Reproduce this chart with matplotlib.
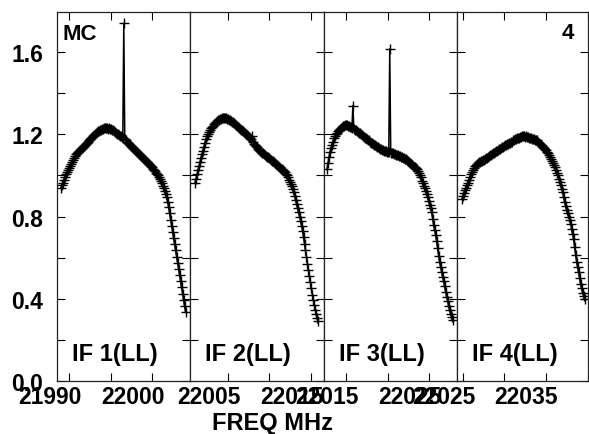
import matplotlib
matplotlib.use("Agg")
import matplotlib.pyplot as plt
import numpy as np
from matplotlib.ticker import MultipleLocator, FuncFormatter
from matplotlib.transforms import ScaledTranslation

plt.rcParams['font.family'] = ['Liberation Sans', 'DejaVu Sans']
plt.rcParams['font.weight'] = 'bold'

# ---------------- data ----------------
CHAN_MHZ = 0.12
IF_START_MHZ = [21989.04, 22001.02, 22012.71, 22024.88]
IF_LABELS = ["IF 1(LL)", "IF 2(LL)", "IF 3(LL)", "IF 4(LL)"]
SOURCE = "MC"
PLOT_NO = "4"

if1 = [0.94, 0.955, 0.965, 0.98, 0.99, 1.005, 1.015, 1.025, 1.035, 1.045,
       1.055, 1.065, 1.075, 1.085, 1.095, 1.105, 1.11, 1.115, 1.12, 1.125,
       1.13, 1.135, 1.14, 1.145, 1.15, 1.155, 1.16, 1.165, 1.17, 1.175,
       1.18, 1.185, 1.19, 1.195, 1.20, 1.205, 1.21, 1.215, 1.215, 1.22,
       1.22, 1.225, 1.225, 1.23, 1.23, 1.23, 1.23, 1.225, 1.23, 1.225,
       1.225, 1.22, 1.22, 1.215, 1.21, 1.205, 1.20, 1.20, 1.195, 1.19,
       1.19, 1.185, 1.18, 1.74, 1.175, 1.17, 1.165, 1.16, 1.155, 1.15,
       1.145, 1.14, 1.135, 1.13, 1.125, 1.12, 1.115, 1.11, 1.105, 1.10,
       1.095, 1.09, 1.085, 1.08, 1.075, 1.07, 1.065, 1.06, 1.055, 1.05,
       1.045, 1.04, 1.03, 1.025, 1.02, 1.01, 1.005, 1.00, 0.99, 0.985,
       0.975, 0.965, 0.95, 0.94, 0.925, 0.91, 0.895, 0.87, 0.845, 0.815,
       0.785, 0.755, 0.725, 0.695, 0.665, 0.635, 0.605, 0.575, 0.545, 0.515,
       0.485, 0.455, 0.425, 0.395, 0.365, 0.335]

if2 = [0.965, 0.985, 1.005, 1.025, 1.045, 1.065, 1.085, 1.105, 1.12, 1.14,
       1.16, 1.175, 1.19, 1.20, 1.21, 1.22, 1.23, 1.235, 1.24, 1.25,
       1.255, 1.26, 1.265, 1.27, 1.27, 1.275, 1.275, 1.28, 1.278, 1.28,
       1.278, 1.28, 1.275, 1.275, 1.27, 1.27, 1.265, 1.26, 1.26, 1.255,
       1.25, 1.245, 1.24, 1.235, 1.23, 1.225, 1.22, 1.22, 1.215, 1.21,
       1.205, 1.20, 1.195, 1.19, 1.185, 1.18, 1.175, 1.19, 1.165, 1.155,
       1.15, 1.145, 1.14, 1.13, 1.125, 1.12, 1.115, 1.11, 1.11, 1.105,
       1.10, 1.095, 1.09, 1.09, 1.085, 1.08, 1.075, 1.07, 1.07, 1.065,
       1.06, 1.055, 1.05, 1.045, 1.04, 1.035, 1.03, 1.03, 1.025, 1.02,
       1.015, 1.005, 1.00, 0.99, 0.98, 0.97, 0.96, 0.95, 0.935, 0.92,
       0.90, 0.88, 0.86, 0.84, 0.82, 0.80, 0.78, 0.755, 0.73, 0.70,
       0.665, 0.635, 0.605, 0.57, 0.54, 0.51, 0.48, 0.45, 0.42, 0.395,
       0.37, 0.345, 0.325, 0.305, 0.29]

if3 = [1.03, 1.06, 1.09, 1.115, 1.135, 1.15, 1.165, 1.18, 1.19, 1.20,
       1.205, 1.215, 1.22, 1.225, 1.23, 1.235, 1.24, 1.24, 1.245, 1.245,
       1.245, 1.24, 1.24, 1.235, 1.235, 1.23, 1.34, 1.225, 1.22, 1.22,
       1.215, 1.21, 1.205, 1.205, 1.20, 1.195, 1.19, 1.185, 1.18, 1.18,
       1.175, 1.17, 1.17, 1.165, 1.16, 1.16, 1.155, 1.15, 1.15, 1.145,
       1.14, 1.14, 1.135, 1.13, 1.13, 1.125, 1.125, 1.12, 1.12, 1.12,
       1.115, 1.115, 1.115, 1.615, 1.11, 1.11, 1.11, 1.105, 1.105, 1.10,
       1.10, 1.10, 1.095, 1.095, 1.09, 1.09, 1.085, 1.085, 1.08, 1.08,
       1.075, 1.07, 1.065, 1.06, 1.055, 1.05, 1.045, 1.04, 1.04, 1.035,
       1.03, 1.02, 1.01, 1.00, 0.99, 0.975, 0.965, 0.95, 0.94, 0.925,
       0.91, 0.895, 0.875, 0.855, 0.84, 0.82, 0.79, 0.76, 0.735, 0.71,
       0.68, 0.645, 0.61, 0.58, 0.555, 0.53, 0.505, 0.485, 0.46, 0.435,
       0.41, 0.39, 0.365, 0.345, 0.325, 0.31, 0.295]

if4 = [0.885, 0.90, 0.915, 0.93, 0.94, 0.955, 0.965, 0.98, 0.99, 1.005,
       1.015, 1.025, 1.035, 1.045, 1.05, 1.055, 1.06, 1.065, 1.065, 1.07,
       1.07, 1.075, 1.075, 1.08, 1.085, 1.085, 1.09, 1.095, 1.10, 1.10,
       1.105, 1.11, 1.11, 1.115, 1.12, 1.12, 1.125, 1.13, 1.13, 1.135,
       1.14, 1.14, 1.145, 1.15, 1.15, 1.155, 1.155, 1.16, 1.16, 1.165,
       1.165, 1.17, 1.17, 1.175, 1.175, 1.18, 1.18, 1.18, 1.185, 1.185,
       1.19, 1.19, 1.19, 1.185, 1.19, 1.185, 1.185, 1.18, 1.18, 1.18,
       1.175, 1.175, 1.175, 1.17, 1.17, 1.17, 1.165, 1.16, 1.155, 1.15,
       1.145, 1.14, 1.135, 1.13, 1.125, 1.115, 1.11, 1.10, 1.09, 1.08,
       1.07, 1.06, 1.05, 1.04, 1.025, 1.01, 1.00, 0.985, 0.97, 0.955,
       0.935, 0.92, 0.895, 0.87, 0.85, 0.83, 0.815, 0.80, 0.785, 0.765,
       0.74, 0.715, 0.69, 0.65, 0.615, 0.58, 0.555, 0.53, 0.50, 0.47,
       0.45, 0.43, 0.415, 0.40]

IF_DATA = [if1, if2, if3, if4]

X_TICKS = [[21990, 21995, 22000],
           [22005, 22010, 22015],
           [22015, 22020, 22025],
           [22025, 22030, 22035, 22040]]
X_TICK_LABELS = [["21990", "", "22000"],
                 ["22005", "", "22015"],
                 ["22015", "", "22025"],
                 ["22025", "", "22035", ""]]
XLIMS = [(21988.55, 22004.58), (22000.42, 22016.57),
         (22012.35, 22028.37), (22024.28, 22040.06)]
YLIM = (0.0, 1.795)

# ---------------- layout ----------------
W, H = 589, 435
fig = plt.figure(figsize=(W / 100, H / 100), dpi=100)
panel_px = [(57, 133), (190, 134), (324, 133), (457, 131)]
top_px, bot_px = 13, 382

label_shift = ScaledTranslation(-19.5 / 100, 0, fig.dpi_scale_trans)

axes = []
for k, (lp, wp) in enumerate(panel_px):
    ax = fig.add_axes([lp / W, (H - bot_px) / H, wp / W, (bot_px - top_px) / H])
    axes.append(ax)
    vals = np.array(IF_DATA[k])
    freq = IF_START_MHZ[k] + CHAN_MHZ * np.arange(len(vals))
    ax.plot(freq, vals, color='black', lw=1.1, marker='+', ms=7.5, mew=1.0)
    ax.set_xlim(*XLIMS[k])
    ax.set_ylim(*YLIM)
    ax.set_xticks(X_TICKS[k])
    ax.set_xticklabels(X_TICK_LABELS[k])
    ax.yaxis.set_major_locator(MultipleLocator(0.4))
    ax.yaxis.set_minor_locator(MultipleLocator(0.2))
    ax.yaxis.set_major_formatter(FuncFormatter(lambda v, p: f"{v:.1f}"))
    ax.tick_params(which='both', direction='in', length=5.5, width=0.8,
                   top=True, right=True, labelsize=16.5, colors='black')
    ax.tick_params(axis='y', pad=10)
    ax.tick_params(axis='x', pad=3)
    if k > 0:
        ax.tick_params(axis='y', labelleft=False)
    for lab in ax.get_xticklabels():
        lab.set_transform(lab.get_transform() + label_shift)
    for sp in ax.spines.values():
        sp.set_linewidth(0.9)
        sp.set_color('#222222')
    ax.text(15 / wp, (bot_px - 361) / (bot_px - top_px), IF_LABELS[k],
            transform=ax.transAxes, fontsize=17, fontweight='bold',
            ha='left', va='baseline')

axes[0].text(6 / 133, (bot_px - 40) / (bot_px - top_px), SOURCE,
             transform=axes[0].transAxes, fontsize=16, fontweight='bold',
             ha='left', va='baseline')
axes[3].text((574 - 457) / 131, (bot_px - 39) / (bot_px - top_px), PLOT_NO,
             transform=axes[3].transAxes, fontsize=16, fontweight='bold',
             ha='right', va='baseline')

fig.text(272 / W, 5 / H, "FREQ MHz", fontsize=17, fontweight='bold',
         ha='center', va='baseline')

fig.savefig("out.png", dpi=100)
